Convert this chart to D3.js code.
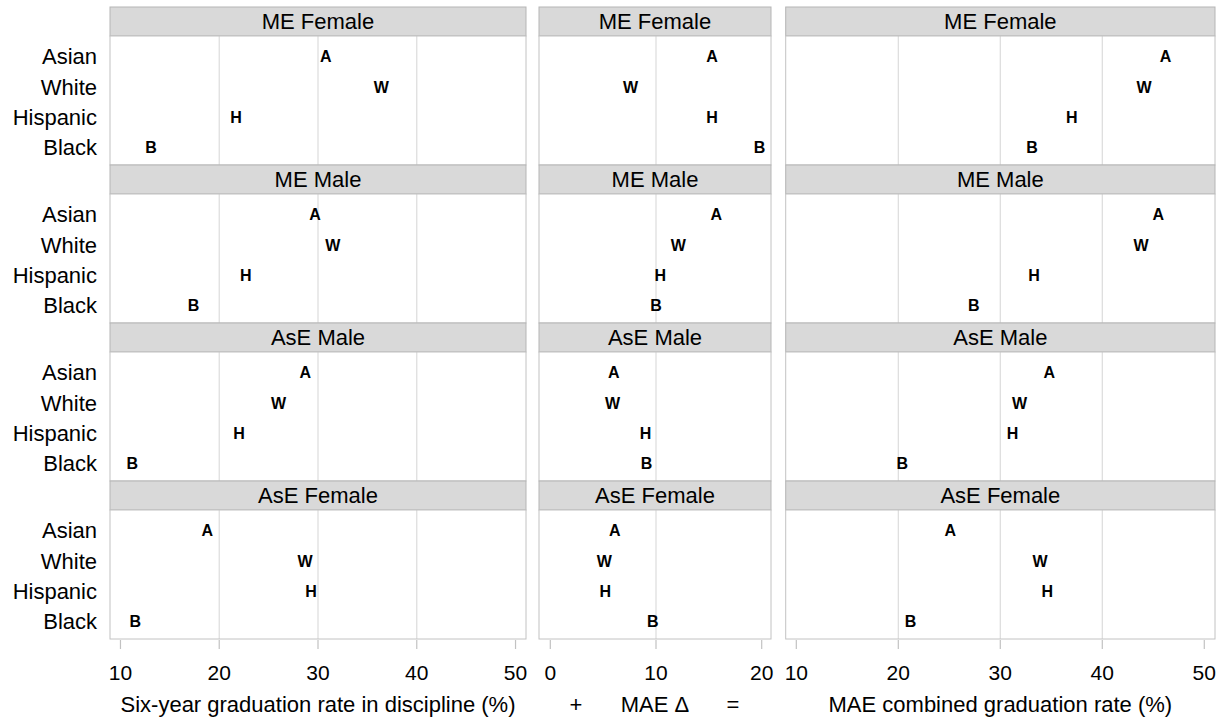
<!DOCTYPE html>
<html lang="en">
  <head>
    <meta charset="utf-8" />
    <title>Graduation rate dot panels</title>
    <script src="https://cdn.jsdelivr.net/npm/d3@7"></script>
    <style type="text/css">
      body { margin: 0; background: #fff; }
      text { font-family: "Liberation Sans", Arial, sans-serif; fill: #000; }
      .letter { font-weight: bold; font-size: 16px; }
      .strip-text, .group-label, .axis-title { font-size: 22px; }
      .tick-label { font-size: 21px; }
    </style>
  </head>
  <body>
    <div id="chart"></div>
    <script type="text/javascript">
      /*******************************************
       * data
       *******************************************/
      const facets = ["ME Female", "ME Male", "AsE Male", "AsE Female"];
      const groups = ["Asian", "White", "Hispanic", "Black"];
      const letters = ["A", "W", "H", "B"];

      // one inner list per facet, values in group order
      const sixYearRate = [
        [30.8, 36.4, 21.7, 13.1],
        [29.7, 31.5, 22.7, 17.4],
        [28.7, 26.0, 22.0, 11.2],
        [18.8, 28.7, 29.3, 11.5],
      ];
      const maeDelta = [
        [15.3, 7.6, 15.3, 19.8],
        [15.7, 12.1, 10.4, 10.0],
        [6.0, 5.9, 9.0, 9.1],
        [6.1, 5.1, 5.2, 9.7],
      ];
      const maeCombined = [
        [46.2, 44.1, 37.0, 33.1],
        [45.5, 43.8, 33.3, 27.4],
        [34.8, 31.9, 31.2, 20.4],
        [25.1, 33.9, 34.6, 21.2],
      ];

      const ticksRate = [10, 20, 30, 40, 50];
      const ticksDelta = [0, 10, 20];
      const ticksCombined = [10, 20, 30, 40, 50];

      /*******************************************
       * layout
       *******************************************/
      const width = 1224;
      const height = 727;
      const plotTop = 7;
      const stripH = 29;
      const panelH = 129;
      const rowH = stripH + panelH;

      const columns = [
        { values: sixYearRate, ticks: ticksRate, domain: [8.94, 51.06], x0: 110, x1: 526,
          title: ["Six-year graduation rate in discipline (%)"] },
        { values: maeDelta, ticks: ticksDelta, domain: [-1.07, 20.88], x0: 539, x1: 771,
          title: ["+", "MAE \u0394", "="] },
        { values: maeCombined, ticks: ticksCombined, domain: [8.96, 51.05], x0: 785.7, x1: 1215,
          title: ["MAE combined graduation rate (%)"] },
      ];

      const svg = d3.select("#chart").append("svg")
        .attr("width", width)
        .attr("height", height);

      const yScale = d3.scalePoint()
        .domain(groups)
        .range([20.5, panelH - 17.5]);

      const panelsBottom = plotTop + rowH * facets.length;

      /*******************************************
       * panels
       *******************************************/
      columns.forEach((col, ci) => {
        const xScale = d3.scaleLinear().domain(col.domain).range([col.x0, col.x1]);
        const pw = col.x1 - col.x0;

        facets.forEach((facet, fi) => {
          const rowTop = plotTop + fi * rowH;
          const g = svg.append("g").attr("transform", `translate(0, ${rowTop})`);

          // strip
          g.append("rect")
            .attr("x", col.x0).attr("y", 0)
            .attr("width", pw).attr("height", stripH)
            .attr("fill", "#d9d9d9")
            .attr("stroke", "#b5b5b5")
            .attr("stroke-width", 1);
          g.append("text")
            .attr("class", "strip-text")
            .attr("x", (col.x0 + col.x1) / 2)
            .attr("y", stripH / 2)
            .attr("dy", "0.36em")
            .attr("text-anchor", "middle")
            .text(facet);

          const p = g.append("g").attr("transform", `translate(0, ${stripH})`);

          p.append("rect")
            .attr("x", col.x0).attr("y", 0)
            .attr("width", pw).attr("height", panelH)
            .attr("fill", "#fff");

          // vertical grid lines (interior ticks only)
          p.selectAll("line.grid")
            .data(col.ticks.filter((t, i) => i > 0 && i < col.ticks.length - 1))
            .enter()
            .append("line")
            .attr("class", "grid")
            .attr("x1", (d) => xScale(d)).attr("x2", (d) => xScale(d))
            .attr("y1", 0).attr("y2", panelH)
            .attr("stroke", "#dcdcdc")
            .attr("stroke-width", 1.2);

          p.append("rect")
            .attr("x", col.x0).attr("y", 0)
            .attr("width", pw).attr("height", panelH)
            .attr("fill", "none")
            .attr("stroke", "#c2c2c2")
            .attr("stroke-width", 1);

          // letters
          p.selectAll("text.letter")
            .data(col.values[fi])
            .enter()
            .append("text")
            .attr("class", "letter")
            .attr("x", (d) => xScale(d))
            .attr("y", (d, i) => yScale(groups[i]))
            .attr("dy", "0.36em")
            .attr("text-anchor", "middle")
            .text((d, i) => letters[i]);

          // group labels on the left column
          if (ci === 0) {
            p.selectAll("text.group-label")
              .data(groups)
              .enter()
              .append("text")
              .attr("class", "group-label")
              .attr("x", col.x0 - 13)
              .attr("y", (d) => yScale(d))
              .attr("dy", "0.36em")
              .attr("text-anchor", "end")
              .text((d) => d);
          }
        });

        // x axis
        const axis = svg.append("g").attr("transform", `translate(0, ${panelsBottom})`);
        axis.selectAll("line.tick")
          .data(col.ticks)
          .enter()
          .append("line")
          .attr("x1", (d) => xScale(d)).attr("x2", (d) => xScale(d))
          .attr("y1", 1).attr("y2", 10)
          .attr("stroke", "#c2c2c2")
          .attr("stroke-width", 1.2);
        axis.selectAll("text.tick-label")
          .data(col.ticks)
          .enter()
          .append("text")
          .attr("class", "tick-label")
          .attr("x", (d) => xScale(d))
          .attr("y", 33)
          .attr("dy", "0.36em")
          .attr("text-anchor", "middle")
          .text((d) => d);

        // axis title
        const cx = (col.x0 + col.x1) / 2;
        const offsets = col.title.length === 3 ? [-79, 0, 78] : [0];
        col.title.forEach((t, ti) => {
          axis.append("text")
            .attr("class", "axis-title")
            .attr("x", cx + offsets[ti])
            .attr("y", 73)
            .attr("text-anchor", "middle")
            .text(t);
        });
      });
    </script>
  </body>
</html>
